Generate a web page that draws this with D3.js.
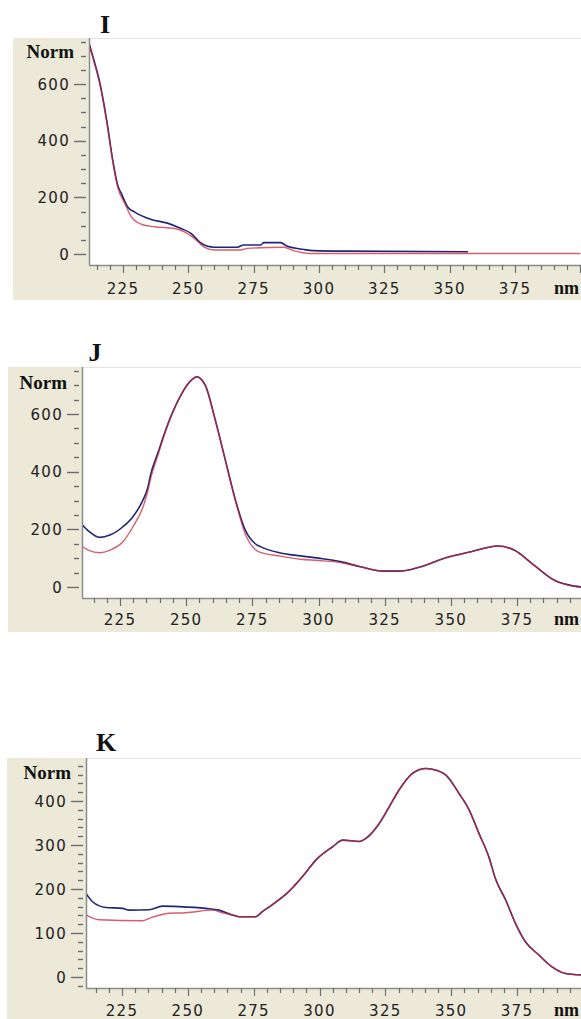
<!DOCTYPE html>
<html>
<head>
<meta charset="utf-8">
<script src="https://cdn.jsdelivr.net/npm/d3@7"></script>
<style>
  body { margin: 0; background: #ffffff; }
  svg { display: block; }
  .num { font-family: "DejaVu Sans", sans-serif; font-size: 15px; fill: #222; letter-spacing: 1.3px; }
  .bold { font-family: "Liberation Serif", "Times New Roman", serif; font-weight: bold; fill: #111; }
</style>
</head>
<body>
<svg id="chart" width="581" height="1019"></svg>
<script>
// Spectra: [wavelength nm, Norm]
var spectrumIBlue = [[212,745],[214,680],[216,610],[218.8,470],[221.1,330],[223,242],[224.4,213],[226.8,166],[229.5,148],
    [235.8,122],[242,109],[247.2,90],[251,73],[254.9,38],[259.9,24],[268.7,24],[271.3,32],[277.7,32],[278.9,40],[285.3,40],
    [287.7,28],[294.1,16],[297.9,12],[311,10],[357,8]];
var spectrumIRed = [[212,740],[214,675],[216,605],[218.8,465],[221.1,325],[223,235],[225.7,178],[228.2,131],[232,105],
    [237.1,96],[244.7,90],[248.5,78],[252.3,55],[256.1,24],[259.9,14],[270,14],[272.6,20],[286.5,24],[290.3,12],[296.7,2],[400,2]];

var spectrumJBlue = [[210.8,215],[213,195],[217.4,172],[221.2,180],[226.1,209],[229.9,244],[233.7,302],[235.6,348],[236.4,383],
    [239.5,470],[242.7,556],[247.7,660],[250.3,700],[252.5,722],[254.1,729],[255.5,722],[257.2,700],[261,579],[264.8,440],
    [268.6,302],[272.3,198],[276.1,150],[278,140],[285.6,118],[293.2,108],[300,100],[308.3,88],[315.9,70],[324.6,55],[331,55],
    [338.6,70],[347.3,99],[357.6,122],[367.7,142],[373.9,128],[381.4,76],[389,24],[396.6,3],[400,0]];
var spectrumJRed = [[210.8,140],[213,128],[217.4,119],[221.2,128],[226.1,157],[229.9,209],[233.7,278],[235.6,336],[236.4,370],
    [239.5,462],[242.7,552],[247.7,660],[250.3,700],[252.5,722],[254.1,729],[255.5,722],[257.2,700],[261,579],[264.8,440],
    [268.6,300],[272.3,185],[276.1,130],[278,120],[285.6,107],[293.2,96],[300,92],[308.3,85],[315.9,70],[324.6,55],[331,55],
    [338.6,70],[347.3,99],[357.6,122],[367.7,142],[373.9,128],[381.4,76],[389,24],[396.6,3],[400,0]];

var spectrumKBlue = [[211.3,190],[213.8,171],[218.9,158],[225.2,156],[227.7,152],[235.3,153],[240.4,161],[246.6,160],[256.8,156],
    [261.8,152],[266.9,141],[269.4,137],[275.7,137],[278.2,148],[282,164],[288.3,194],[294.6,236],[298.5,265],[305,296],
    [308.8,311],[315.1,308],[317.6,315],[322.7,349],[326.5,387],[330.2,425],[335.3,463],[340.4,474],[342.9,472],[348,459],
    [353,417],[356.8,380],[360.5,327],[364.3,273],[366.9,222],[370.7,175],[374.4,122],[378.2,80],[383.3,50],[388.3,23],
    [393.4,8],[398.4,5],[400,4]];
var spectrumKRed = [[211.3,141],[216.3,130],[232.8,128],[236.6,136],[242.9,145],[249.2,146],[259.3,152],[263.1,146],[266.9,141],
    [269.4,137],[275.7,137],[278.2,148],[282,164],[288.3,194],[294.6,236],[298.5,265],[305,296],
    [308.8,311],[315.1,308],[317.6,315],[322.7,349],[326.5,387],[330.2,425],[335.3,463],[340.4,474],[342.9,472],[348,459],
    [353,417],[356.8,380],[360.5,327],[364.3,273],[366.9,222],[370.7,175],[374.4,122],[378.2,80],[383.3,50],[388.3,23],
    [393.4,8],[398.4,5],[400,4]];

// axis labels
var panelNames = ["I", "J", "K"];
var xTickLabels = [225, 250, 275, 300, 325, 350, 375];
var yTickLabelsIJ = [0, 200, 400, 600];
var yTickLabelsK = [0, 100, 200, 300, 400];

var svg = d3.select("#chart");
var W = 581;

// draw one spectrum panel
function drawPanel(p) {
    var g = svg.append("g");

    // x scale: 225 and 375 tick positions
    var x = d3.scaleLinear().domain([225, 375]).range([p.x225, p.x375]);
    var y = d3.scaleLinear().domain([0, p.yRefVal]).range([p.y0, p.yRef]);

    // beige frame (left + bottom strip)
    g.append("rect").attr("x", p.beigeLeft).attr("y", p.top)
        .attr("width", W - p.beigeLeft).attr("height", p.bottom - p.top).attr("fill", "#ece9d8");
    // white plot area
    g.append("rect").attr("x", p.left).attr("y", p.top)
        .attr("width", W - p.left).attr("height", p.axisY - p.top).attr("fill", "#ffffff");
    g.append("line").attr("x1", p.left).attr("x2", W).attr("y1", p.top + 0.5).attr("y2", p.top + 0.5)
        .attr("stroke", "#e4e4e4");

    // panel letter
    g.append("text").attr("class", "bold").attr("x", p.labelX).attr("y", p.labelY)
        .attr("text-anchor", "middle").style("font-size", "26px").text(p.name);

    // y axis
    g.append("line").attr("x1", p.left + 0.5).attr("x2", p.left + 0.5).attr("y1", p.top).attr("y2", p.axisY)
        .attr("stroke", "#8c8c8c").attr("stroke-width", 1.5);
    var yTicks = d3.range(p.yMin, p.yMax + 0.1, p.yMinor);
    g.selectAll(null).data(yTicks).enter().append("line")
        .attr("x1", function(d) { return d % p.yMajor === 0 ? p.left - 15 : p.left - 8; })
        .attr("x2", p.left - 3)
        .attr("y1", function(d) { return Math.round(y(d)) + 0.5; })
        .attr("y2", function(d) { return Math.round(y(d)) + 0.5; })
        .attr("stroke", "#6e6e6e").attr("stroke-width", 1.4);
    g.selectAll(null).data(p.yLabels).enter().append("text")
        .attr("class", "num").attr("text-anchor", "end")
        .attr("x", p.left - 19).attr("y", function(d) { return y(d) + 5.5; })
        .text(function(d) { return d; });
    g.append("text").attr("class", "bold").attr("text-anchor", "end")
        .attr("x", p.left - 15).attr("y", p.normY).style("font-size", "19px").text("Norm");

    // x axis
    g.append("line").attr("x1", p.left).attr("x2", W).attr("y1", p.axisY + 0.5).attr("y2", p.axisY + 0.5)
        .attr("stroke", "#8c8c8c").attr("stroke-width", 1.5);
    var xStart = Math.ceil(x.invert(p.left) / 5) * 5;
    var xTicks = d3.range(xStart, 401, 5);
    g.selectAll(null).data(xTicks).enter().append("line")
        .attr("x1", function(d) { return Math.round(x(d)) + 0.5; })
        .attr("x2", function(d) { return Math.round(x(d)) + 0.5; })
        .attr("y1", p.axisY)
        .attr("y2", function(d) { return d % 25 === 0 ? p.axisY + 8 : p.axisY + 5; })
        .attr("stroke", "#6e6e6e").attr("stroke-width", 1.2);
    g.selectAll(null).data(xTickLabels).enter().append("text")
        .attr("class", "num").attr("text-anchor", "middle")
        .attr("x", function(d) { return x(d); }).attr("y", p.xLabelY)
        .text(function(d) { return d; });
    g.append("text").attr("class", "bold").attr("text-anchor", "end")
        .attr("x", 579).attr("y", p.xLabelY).style("font-size", "18px").text("nm");

    // spectra
    var clipId = "clip" + p.name;
    g.append("clipPath").attr("id", clipId).append("rect")
        .attr("x", p.left + 1).attr("y", p.top).attr("width", W - p.left).attr("height", p.axisY - p.top);
    var line = d3.line().curve(d3.curveMonotoneX)
        .x(function(d) { return x(d[0]); }).y(function(d) { return y(d[1]); });
    var plot = g.append("g").attr("clip-path", "url(#" + clipId + ")");
    plot.append("path").datum(p.blue).attr("d", line).attr("fill", "none")
        .attr("stroke", "#1f2778").attr("stroke-width", 1.6);
    plot.append("path").datum(p.red).attr("d", line).attr("fill", "none")
        .attr("stroke", "#c8283c").attr("stroke-width", 1.4).attr("stroke-opacity", 0.75);
}

drawPanel({name: panelNames[0], blue: spectrumIBlue, red: spectrumIRed, yLabels: yTickLabelsIJ,
    beigeLeft: 13, left: 89, top: 38, axisY: 265, bottom: 300,
    x225: 123, x375: 515, y0: 254, yRef: 84, yRefVal: 600,
    yMin: 0, yMax: 750, yMinor: 50, yMajor: 200,
    labelX: 105, labelY: 33, normY: 58, xLabelY: 294});

drawPanel({name: panelNames[1], blue: spectrumJBlue, red: spectrumJRed, yLabels: yTickLabelsIJ,
    beigeLeft: 8, left: 82, top: 367, axisY: 598, bottom: 632,
    x225: 120, x375: 517, y0: 587, yRef: 414, yRefVal: 600,
    yMin: 0, yMax: 750, yMinor: 50, yMajor: 200,
    labelX: 95, labelY: 361, normY: 389, xLabelY: 625});

drawPanel({name: panelNames[2], blue: spectrumKBlue, red: spectrumKRed, yLabels: yTickLabelsK,
    beigeLeft: 7, left: 86, top: 758, axisY: 988, bottom: 1019,
    x225: 122, x375: 517, y0: 977, yRef: 801, yRefVal: 400,
    yMin: -20, yMax: 480, yMinor: 20, yMajor: 100,
    labelX: 106, labelY: 751, normY: 779, xLabelY: 1016});
</script>
</body>
</html>
